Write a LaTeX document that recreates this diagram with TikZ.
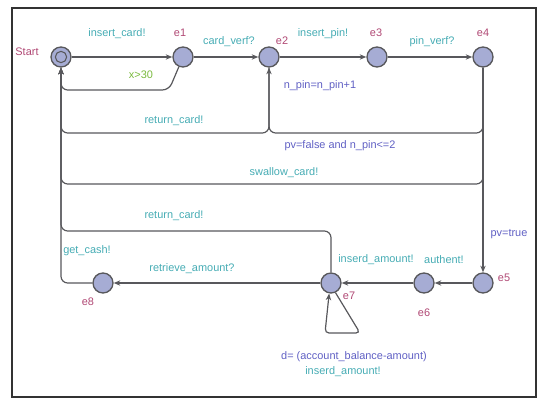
\documentclass[tikz,border=0pt]{standalone}
\usepackage{fontspec}
\setmainfont{Liberation Sans}
\usetikzlibrary{arrows.meta, calc}
\definecolor{mystate}{RGB}{166,172,212}
\definecolor{myline}{RGB}{88,88,92}
\definecolor{mysync}{RGB}{70,172,180}
\definecolor{myupdate}{RGB}{96,96,196}
\definecolor{myguard}{RGB}{122,186,62}
\definecolor{myname}{RGB}{176,72,116}
\tikzset{
  state/.style={circle, draw=myline, fill=mystate, line width=1pt,
    minimum size=15pt, inner sep=0},
  inner/.style={circle, draw=myline, line width=0.8pt, minimum size=8.5pt, inner sep=0},
  edge/.style={->, draw=myline, line width=0.9pt, rounded corners=5},
  lbl/.style={font=\fontsize{8.2}{10}\selectfont, inner sep=0},
  sync/.style={lbl, text=mysync},
  update/.style={lbl, text=myupdate},
  guard/.style={lbl, text=myguard},
  locname/.style={lbl, text=myname}
}

\begin{document}
\begin{tikzpicture}[x=0.75pt, y=-0.75pt, >={Stealth[length=5pt,width=4pt]}]
\useasboundingbox (0,0) rectangle (539,399);
\draw[line width=1.2pt, color=black!80] (12,8) rectangle (536,397);

% locations
\node [state] (start) at (61,57) {};
\node [inner] (start-in) at (start) {};
\node [state] (e1) at (183,57) {};
\node [state] (e2) at (269,57) {};
\node [state] (e3) at (377,57) {};
\node [state] (e4) at (483,57) {};
\node [state] (e5) at (483,283) {};
\node [state] (e6) at (424,283) {};
\node [state] (e7) at (331,283) {};
\node [state] (e8) at (103,283) {};

\node [locname] at (27,52) {Start};
\node [locname] at (180,33) {e1};
\node [locname] at (282,41) {e2};
\node [locname] at (376,33) {e3};
\node [locname] at (483,33) {e4};
\node [locname] at (504,278) {e5};
\node [locname] at (424,313) {e6};
\node [locname] at (349,296) {e7};
\node [locname] at (88,302) {e8};

% levels of the way back
\coordinate (guardlvl) at (0,90);
\coordinate (backlvl) at (0,133);
\coordinate (swallowlvl) at (0,184);
\coordinate (returnlvl) at (0,231);

% edges
\draw[edge] (start) -- (e1);
\draw[edge] (e1) -- (e2);
\draw[edge] (e2) -- (e3);
\draw[edge] (e3) -- (e4);
\draw[edge] (e1) -- ($(e1 |- guardlvl)+(-14,0)$) -| (start);
\draw[edge] (e2) -- (e2 |- backlvl) -| (start);
\draw[edge] (e4) -- (e4 |- backlvl) -| (e2);
\draw[edge] (e4) -- (e4 |- swallowlvl) -| (start);
\draw[edge] (e4) -- (e5);
\draw[edge] (e5) -- (e6);
\draw[edge] (e6) -- (e7);
\draw[edge] (e7) -- (e7 |- returnlvl) -| (start);
\draw[edge] (e7) -- (e8);
\draw[edge] (e8) -| (start);
\draw[edge, rounded corners=3] (e7.-65) -- ($(e7)+(29,50)$) -- ($(e7)+(-6,50)$) -- (e7.-100);

% labels
\node [sync] at (117,34) {insert\_card!};
\node [sync] at (229,42) {card\_verf?};
\node [sync] at (323,34) {insert\_pin!};
\node [sync] at (432,42) {pin\_verf?};
\node [guard] at (141,75) {x>30};
\node [sync] at (174,121) {return\_card!};
\node [update] at (320,86) {n\_pin=n\_pin+1};
\node [update] at (340,146) {pv=false and n\_pin<=2};
\node [sync] at (284,173) {swallow\_card!};
\node [sync] at (174,216) {return\_card!};
\node [sync] at (87,251) {get\_cash!};
\node [sync] at (192,269) {retrieve\_amount?};
\node [sync] at (376,260) {inserd\_amount!};
\node [sync] at (444,260) {authent!};
\node [update] at (509,234) {pv=true};
\node [update] at (354,357) {d= (account\_balance-amount)};
\node [sync] at (343,372) {inserd\_amount!};

\end{tikzpicture}
\end{document}
